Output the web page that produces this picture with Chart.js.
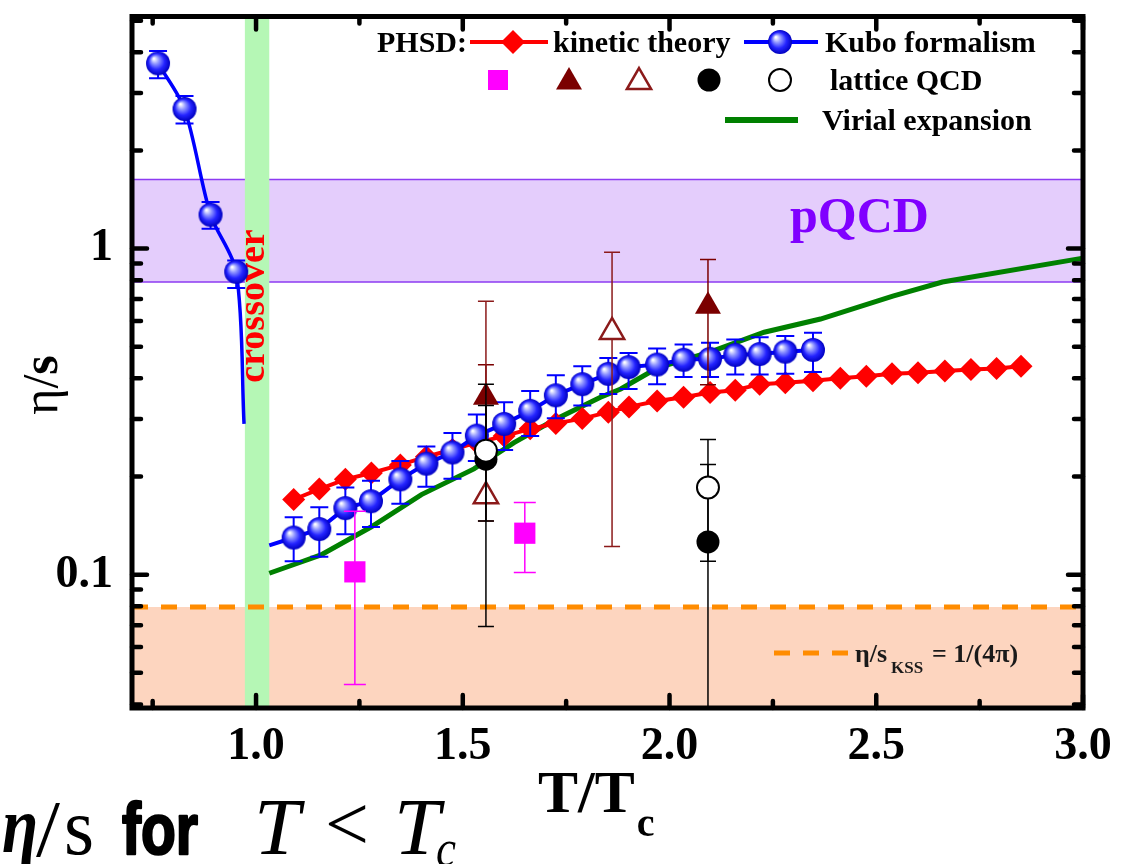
<!DOCTYPE html>
<html>
<head>
<meta charset="utf-8">
<title>eta/s vs T/Tc</title>
<script src="https://cdn.jsdelivr.net/npm/chart.js@4.4.1/dist/chart.umd.min.js"></script>
<style>
  html, body { margin: 0; padding: 0; background: #fff; }
  #wrap { width: 1124px; height: 864px; }
</style>
</head>
<body>
<div id="wrap"><canvas id="chart" width="1124" height="864"></canvas></div>
<script>
// PHSD Kubo formalism, hadronic side (last entry only continues the curve)
const kuboLowT   = [0.763, 0.827, 0.890, 0.952, 0.971];
const kuboLowEta = [3.70, 2.68, 1.27, 0.849, 0.29];
const kuboLowLo  = [3.33, 2.42, 1.15, 0.757, null];
const kuboLowHi  = [4.04, 2.94, 1.39, 0.92, null];

// PHSD Kubo formalism, QGP side (first entry only starts the curve)
const kuboT   = [1.032, 1.091, 1.153, 1.216, 1.278, 1.349, 1.412, 1.475, 1.534, 1.600, 1.663, 1.725, 1.789, 1.852, 1.901, 1.970, 2.034, 2.098, 2.159, 2.218, 2.280, 2.347];
const kuboEta = [0.123, 0.130, 0.138, 0.160, 0.168, 0.196, 0.219, 0.237, 0.267, 0.290, 0.318, 0.355, 0.384, 0.413, 0.433, 0.441, 0.456, 0.459, 0.472, 0.475, 0.483, 0.489];
const kuboLo  = [null, 0.110, 0.1135, 0.133, 0.140, 0.165, 0.186, 0.197, 0.223, 0.241, 0.266, 0.302, 0.330, 0.358, 0.371, 0.384, 0.404, 0.404, 0.411, 0.411, 0.413, 0.418];
const kuboHi  = [null, 0.150, 0.161, 0.185, 0.194, 0.223, 0.247, 0.272, 0.310, 0.338, 0.366, 0.409, 0.436, 0.462, 0.478, 0.494, 0.508, 0.514, 0.526, 0.535, 0.539, 0.552];

// PHSD kinetic theory
const kinT   = [1.091, 1.153, 1.216, 1.279, 1.349, 1.412, 1.475, 1.534, 1.600, 1.663, 1.725, 1.789, 1.852, 1.902, 1.970, 2.034, 2.098, 2.159, 2.218, 2.280, 2.347, 2.413, 2.476, 2.538, 2.601, 2.666, 2.729, 2.791, 2.850];
const kinEta = [0.170, 0.183, 0.196, 0.205, 0.217, 0.230, 0.242, 0.254, 0.266, 0.280, 0.291, 0.301, 0.315, 0.327, 0.341, 0.350, 0.362, 0.368, 0.384, 0.388, 0.393, 0.400, 0.406, 0.413, 0.416, 0.421, 0.426, 0.429, 0.436];

// virial expansion
const virialT   = [1.032, 1.097, 1.157, 1.278, 1.400, 1.527, 1.624, 1.721, 1.833, 1.882, 1.971, 2.101, 2.229, 2.365, 2.540, 2.660, 3.000];
const virialEta = [0.101, 0.108, 0.115, 0.140, 0.176, 0.211, 0.254, 0.298, 0.350, 0.371, 0.431, 0.483, 0.554, 0.608, 0.715, 0.790, 0.935];

// lattice QCD points
const latSqT    = [1.239, 1.650];
const latSqEta  = [0.102, 0.134];
const latSqLo   = [0.046, 0.1016];
const latSqHi   = [0.1566, 0.1666];

const latTriT   = [1.556, 2.093];
const latTriEta = [0.350, 0.665];
const latTriLo  = [0.250, 0.382];
const latTriHi  = [0.440, 0.926];

const latOTriT   = [1.556, 1.861];
const latOTriEta = [0.174, 0.555];
const latOTriLo  = [0.146, 0.122];
const latOTriHi  = [0.690, 0.974];

const latDotT   = [1.556, 2.093];
const latDotEta = [0.226, 0.126];
const latDotLo  = [0.0694, 0.030];
const latDotHi  = [0.384, 0.2176];

const latODotT   = [1.556, 2.093];
const latODotEta = [0.240, 0.185];
const latODotLo  = [0.146, 0.110];
const latODotHi  = [0.330, 0.2597];

// bounds and bands
const kssValue      = 1 / (4 * Math.PI);
const pqcdBand      = [0.79, 1.63];
const crossoverBand = [0.973, 1.032];

// axes
const xRange       = [0.7, 3.0];
const yRange       = [0.039, 5.15];
const xTickValues  = [0.75, 1.0, 1.25, 1.5, 1.75, 2.0, 2.25, 2.5, 2.75, 3.0];
const xMajorValues = [1.0, 1.5, 2.0, 2.5, 3.0];
const xTickLabels  = ['1.0', '1.5', '2.0', '2.5', '3.0'];
const yTickValues  = [0.04, 0.05, 0.06, 0.07, 0.08, 0.09, 0.1, 0.2, 0.3, 0.4, 0.5, 0.6, 0.7, 0.8, 0.9, 1, 2, 3, 4, 5];
const yMajorValues = [0.1, 1];
const yTickLabels  = ['0.1', '1'];

const SERIF = '"Liberation Serif", "Times New Roman", serif';

const pts = (xs, ys) => xs.map((v, i) => ({ x: v, y: ys[i] }));

// shaded sphere used as the Kubo marker
function makeBall(r) {
    const c = document.createElement('canvas');
    c.width = c.height = 2 * r + 2;
    const g = c.getContext('2d');
    const m = r + 1;
    const grad = g.createRadialGradient(m - r * 0.35, m - r * 0.4, r * 0.05, m, m, r);
    grad.addColorStop(0, '#ffffff');
    grad.addColorStop(0.3, '#8f95ff');
    grad.addColorStop(0.65, '#2424ff');
    grad.addColorStop(1, '#0000c0');
    g.fillStyle = grad;
    g.beginPath();
    g.arc(m, m, r, 0, Math.PI * 2);
    g.fill();
    return c;
}
const ball = makeBall(12);

// vertical error bars, drawn just under their own dataset
const errorBarPlugin = {
    id: 'errorBars',
    beforeDatasetDraw(chart, args) {
        const ds = chart.data.datasets[args.index];
        if (!ds.errLo) return;
        const { ctx, chartArea: a, scales: { x, y } } = chart;
        const c = ds.errCap;
        ctx.save();
        ctx.beginPath();
        ctx.rect(a.left, a.top, a.width, a.height);
        ctx.clip();
        ctx.strokeStyle = ds.errColor;
        ctx.lineWidth = ds.errWidth;
        ds.data.forEach((p, i) => {
            const lo = ds.errLo[i], hi = ds.errHi[i];
            if (lo == null) return;
            const px = x.getPixelForValue(p.x);
            const pLo = y.getPixelForValue(lo);
            const pHi = y.getPixelForValue(hi);
            ctx.beginPath();
            ctx.moveTo(px, pLo); ctx.lineTo(px, pHi);
            ctx.moveTo(px - c, pLo); ctx.lineTo(px + c, pLo);
            ctx.moveTo(px - c, pHi); ctx.lineTo(px + c, pHi);
            ctx.stroke();
        });
        ctx.restore();
    }
};

// KSS region, pQCD band and the crossover strip behind the curves
const bandPlugin = {
    id: 'bands',
    beforeDatasetsDraw(chart) {
        const { ctx, chartArea: a, scales: { x, y } } = chart;
        ctx.save();
        const yK = y.getPixelForValue(kssValue);
        ctx.fillStyle = '#fdd5bf';
        ctx.fillRect(a.left, yK, a.width, a.bottom - yK);

        const yTop = y.getPixelForValue(pqcdBand[1]);
        const yBot = y.getPixelForValue(pqcdBand[0]);
        ctx.fillStyle = '#e4cdfc';
        ctx.fillRect(a.left, yTop, a.width, yBot - yTop);
        ctx.strokeStyle = '#8d3bf2';
        ctx.lineWidth = 1.5;
        ctx.beginPath();
        ctx.moveTo(a.left, yTop); ctx.lineTo(a.right, yTop);
        ctx.moveTo(a.left, yBot); ctx.lineTo(a.right, yBot);
        ctx.stroke();

        const x0 = x.getPixelForValue(crossoverBand[0]);
        const x1 = x.getPixelForValue(crossoverBand[1]);
        ctx.fillStyle = '#b5f7b5';
        ctx.fillRect(x0, a.top, x1 - x0, a.height);

        ctx.fillStyle = '#8000ff';
        ctx.font = 'bold 50px ' + SERIF;
        ctx.textAlign = 'left';
        ctx.textBaseline = 'alphabetic';
        ctx.fillText('pQCD', 790, 232);

        ctx.translate(x1 - 5, 306);
        ctx.rotate(-Math.PI / 2);
        ctx.fillStyle = '#ff0000';
        ctx.font = 'bold 38px ' + SERIF;
        ctx.textAlign = 'center';
        ctx.fillText('crossover', 0, 0);
        ctx.restore();
    }
};

// draw text squeezed or stretched to a given width, optionally emboldened
function fitText(ctx, text, font, x, base, w, heavy) {
    ctx.save();
    ctx.font = font;
    const m = ctx.measureText(text).width;
    ctx.translate(x, base);
    ctx.scale(w / m, 1);
    ctx.textAlign = 'left';
    ctx.textBaseline = 'alphabetic';
    ctx.fillText(text, 0, 0);
    if (heavy) {
        ctx.lineWidth = heavy;
        ctx.strokeStyle = ctx.fillStyle;
        ctx.lineJoin = 'round';
        ctx.strokeText(text, 0, 0);
    }
    ctx.restore();
}

function marker(ctx, kind, x, y, r, fill, stroke, lw) {
    ctx.save();
    ctx.beginPath();
    if (kind === 'ball') {
        ctx.drawImage(ball, x - ball.width / 2, y - ball.height / 2);
        ctx.restore();
        return;
    }
    if (kind === 'diamond') {
        ctx.moveTo(x - r, y); ctx.lineTo(x, y - r); ctx.lineTo(x + r, y); ctx.lineTo(x, y + r);
        ctx.closePath();
    } else if (kind === 'square') {
        ctx.rect(x - r, y - r, 2 * r, 2 * r);
    } else if (kind === 'tri') {
        for (let k = 0; k < 3; k++) {
            const t = k * 2 * Math.PI / 3;
            ctx[k ? 'lineTo' : 'moveTo'](x + Math.sin(t) * r, y - Math.cos(t) * r);
        }
        ctx.closePath();
    } else {
        ctx.arc(x, y, r, 0, Math.PI * 2);
    }
    if (fill) { ctx.fillStyle = fill; ctx.fill(); }
    if (stroke) { ctx.strokeStyle = stroke; ctx.lineWidth = lw; ctx.stroke(); }
    ctx.restore();
}

// frame, inward ticks, axis titles, legend, caption
const framePlugin = {
    id: 'frame',
    afterDraw(chart) {
        const { ctx, chartArea: a, scales: { x, y } } = chart;
        ctx.save();
        ctx.strokeStyle = '#000';
        ctx.lineCap = 'round';
        ctx.lineWidth = 4.5;
        xTickValues.forEach(v => {
            const px = x.getPixelForValue(v);
            const len = xMajorValues.includes(v) ? 13 : 7;
            ctx.beginPath();
            ctx.moveTo(px, a.bottom); ctx.lineTo(px, a.bottom - len);
            ctx.moveTo(px, a.top); ctx.lineTo(px, a.top + len);
            ctx.stroke();
        });
        yTickValues.forEach(v => {
            const py = y.getPixelForValue(v);
            const len = yMajorValues.includes(v) ? 15 : 9;
            ctx.beginPath();
            ctx.moveTo(a.left, py); ctx.lineTo(a.left + len, py);
            ctx.moveTo(a.right, py); ctx.lineTo(a.right - len, py);
            ctx.stroke();
        });
        ctx.lineCap = 'butt';
        ctx.lineWidth = 5;
        ctx.strokeRect(a.left, a.top, a.width, a.height);

        // y title
        ctx.save();
        ctx.translate(45, 385);
        ctx.rotate(-Math.PI / 2);
        ctx.fillStyle = '#000';
        ctx.textBaseline = 'alphabetic';
        ctx.font = '50px ' + SERIF;
        const w1 = ctx.measureText('\u03b7/').width;
        ctx.font = 'bold 50px ' + SERIF;
        const w2 = ctx.measureText('s').width;
        ctx.font = '50px ' + SERIF;
        ctx.fillText('\u03b7/', -(w1 + w2) / 2, 12);
        ctx.font = 'bold 50px ' + SERIF;
        ctx.fillText('s', -(w1 + w2) / 2 + w1, 12);
        ctx.restore();

        // x title
        ctx.fillStyle = '#000';
        ctx.font = 'bold 60px ' + SERIF;
        ctx.textBaseline = 'alphabetic';
        ctx.fillText('T/T', 538, 812);
        const tw = ctx.measureText('T/T').width;
        ctx.font = 'bold 40px ' + SERIF;
        ctx.fillText('c', 538 + tw + 2, 836);

        // legend
        ctx.font = 'bold 30px ' + SERIF;
        ctx.fillText('PHSD:', 377, 52);
        ctx.lineWidth = 4;
        ctx.strokeStyle = '#ff0000';
        ctx.beginPath(); ctx.moveTo(470, 42); ctx.lineTo(548, 42); ctx.stroke();
        marker(ctx, 'diamond', 513, 42, 12, '#ff0000');
        ctx.fillText('kinetic theory', 553, 52);
        ctx.strokeStyle = '#0000ff';
        ctx.beginPath(); ctx.moveTo(744, 42); ctx.lineTo(818, 42); ctx.stroke();
        marker(ctx, 'ball', 780, 42);
        ctx.fillText('Kubo formalism', 825, 52);

        marker(ctx, 'square', 498, 80, 10, '#ff00ff');
        marker(ctx, 'tri', 569, 82, 15, '#7b0000');
        marker(ctx, 'tri', 639, 82, 14, '#ffffff', '#8b1a1a', 2.5);
        marker(ctx, 'circle', 709, 80, 11.5, '#000000');
        marker(ctx, 'circle', 780, 80, 11, '#ffffff', '#000000', 2);
        ctx.fillText('lattice QCD', 830, 90);

        ctx.lineWidth = 6;
        ctx.strokeStyle = '#008000';
        ctx.beginPath(); ctx.moveTo(725, 120); ctx.lineTo(798, 120); ctx.stroke();
        ctx.fillText('Virial expansion', 822, 130);

        // KSS bound key
        ctx.lineWidth = 5;
        ctx.strokeStyle = '#ff8c00';
        ctx.setLineDash([16, 13]);
        ctx.beginPath(); ctx.moveTo(774, 653); ctx.lineTo(850, 653); ctx.stroke();
        ctx.setLineDash([]);
        ctx.fillStyle = '#1a1a1a';
        ctx.font = 'bold 26px ' + SERIF;
        ctx.fillText('\u03b7/s', 855, 662);
        ctx.font = 'bold 17px ' + SERIF;
        ctx.fillText('KSS', 891, 673);
        ctx.font = 'bold 26px ' + SERIF;
        ctx.fillText('= 1/(4\u03c0)', 932, 662);

        // caption under the plot
        ctx.fillStyle = '#000';
        fitText(ctx, '\u03b7', 'bold italic 80px ' + SERIF, 2, 852, 36);
        fitText(ctx, '/', '80px ' + SERIF, 36, 856, 24);
        fitText(ctx, 's', '80px ' + SERIF, 64, 854, 30);
        fitText(ctx, 'for', 'bold 72px "Liberation Sans", Arial, sans-serif', 122, 854, 76, 2.5);
        fitText(ctx, 'T', 'italic 80px ' + SERIF, 254, 854, 46);
        fitText(ctx, '<', '78px ' + SERIF, 325, 850, 44);
        fitText(ctx, 'T', 'italic 80px ' + SERIF, 394, 854, 46);
        fitText(ctx, 'c', 'italic 52px ' + SERIF, 436, 866, 20);
        ctx.restore();
    }
};

const errOpts = (lo, hi, color, width, cap) => ({ errLo: lo, errHi: hi, errColor: color, errWidth: width, errCap: cap });

new Chart(document.getElementById('chart'), {
    type: 'scatter',
    data: {
        datasets: [
            Object.assign({
                label: 'lattice QCD (open circles)',
                data: pts(latODotT, latODotEta),
                pointStyle: 'circle', pointRadius: 11,
                pointBackgroundColor: '#ffffff', pointBorderColor: '#000000', pointBorderWidth: 2
            }, errOpts(latODotLo, latODotHi, '#000000', 1.5, 8)),
            Object.assign({
                label: 'lattice QCD (filled circles)',
                data: pts(latDotT, latDotEta),
                pointStyle: 'circle', pointRadius: 11.5,
                pointBackgroundColor: '#000000', pointBorderColor: '#000000', pointBorderWidth: 0
            }, errOpts(latDotLo, latDotHi, '#000000', 1.5, 8)),
            Object.assign({
                label: 'lattice QCD (open triangles)',
                data: pts(latOTriT, latOTriEta),
                pointStyle: 'triangle', pointRadius: 14,
                pointBackgroundColor: '#ffffff', pointBorderColor: '#8b1a1a', pointBorderWidth: 2.5
            }, errOpts(latOTriLo, latOTriHi, '#8b1a1a', 1.5, 8)),
            Object.assign({
                label: 'lattice QCD (filled triangles)',
                data: pts(latTriT, latTriEta),
                pointStyle: 'triangle', pointRadius: 15,
                pointBackgroundColor: '#7b0000', pointBorderColor: '#7b0000', pointBorderWidth: 0
            }, errOpts(latTriLo, latTriHi, '#7b0000', 1.5, 8)),
            Object.assign({
                label: 'lattice QCD (squares)',
                data: pts(latSqT, latSqEta),
                pointStyle: 'rect', pointRadius: 15,
                pointBackgroundColor: '#ff00ff', pointBorderColor: '#ff00ff', pointBorderWidth: 0
            }, errOpts(latSqLo, latSqHi, '#ff00ff', 1.5, 11)),
            Object.assign({
                label: 'Kubo formalism',
                type: 'line',
                data: pts(kuboT, kuboEta),
                borderColor: '#0000ff', borderWidth: 4, tension: 0,
                pointStyle: ball, pointRadius: kuboT.map((t, i) => i === 0 ? 0 : 12)
            }, errOpts(kuboLo, kuboHi, '#0000ff', 2, 9)),
            Object.assign({
                label: 'Kubo formalism (T < Tc)',
                type: 'line',
                data: pts(kuboLowT, kuboLowEta),
                borderColor: '#0000ff', borderWidth: 3.5, tension: 0.3,
                pointStyle: ball, pointRadius: kuboLowT.map((t, i) => kuboLowLo[i] == null ? 0 : 12)
            }, errOpts(kuboLowLo, kuboLowHi, '#0000ff', 2, 9)),
            {
                label: 'kinetic theory',
                type: 'line',
                data: pts(kinT, kinEta),
                borderColor: '#ff0000', borderWidth: 4, tension: 0,
                pointStyle: 'rectRot', pointRadius: 11.5,
                pointBackgroundColor: '#ff0000', pointBorderWidth: 0
            },
            {
                label: 'Virial expansion',
                type: 'line',
                data: pts(virialT, virialEta),
                borderColor: '#008000', borderWidth: 5, tension: 0, pointRadius: 0
            },
            {
                label: 'KSS bound',
                type: 'line',
                data: pts(xRange, [kssValue, kssValue]),
                borderColor: '#ff8c00', borderWidth: 5, borderDash: [16, 13], pointRadius: 0
            }
        ]
    },
    options: {
        responsive: false,
        animation: false,
        devicePixelRatio: 1,
        clip: false,
        layout: { padding: { top: 6, right: 41, left: 0, bottom: 0 } },
        plugins: { legend: { display: false }, tooltip: { enabled: false } },
        scales: {
            x: {
                type: 'linear', min: xRange[0], max: xRange[1],
                afterBuildTicks: s => { s.ticks = xTickValues.map(v => ({ value: v })); },
                afterFit: s => { s.height = 156; s.paddingLeft = 0; s.paddingRight = 0; },
                grid: { display: false, drawTicks: false },
                border: { display: false },
                ticks: {
                    autoSkip: false, maxRotation: 0, padding: 12, color: '#000',
                    font: { family: SERIF, weight: 'bold', size: 46 },
                    callback: v => {
                        const k = xMajorValues.findIndex(m => Math.abs(m - v) < 1e-9);
                        return k < 0 ? '' : xTickLabels[k];
                    }
                }
            },
            y: {
                type: 'logarithmic', min: yRange[0], max: yRange[1],
                afterBuildTicks: s => { s.ticks = yTickValues.map(v => ({ value: v })); },
                afterFit: s => { s.width = 132; s.paddingTop = 0; s.paddingBottom = 0; },
                grid: { display: false, drawTicks: false },
                border: { display: false },
                ticks: {
                    autoSkip: false, padding: 19, color: '#000',
                    font: { family: SERIF, weight: 'bold', size: 46 },
                    callback: v => {
                        const k = yMajorValues.findIndex(m => Math.abs(m - v) < 1e-9);
                        return k < 0 ? '' : yTickLabels[k];
                    }
                }
            }
        }
    },
    plugins: [bandPlugin, errorBarPlugin, framePlugin]
});
</script>
</body>
</html>
